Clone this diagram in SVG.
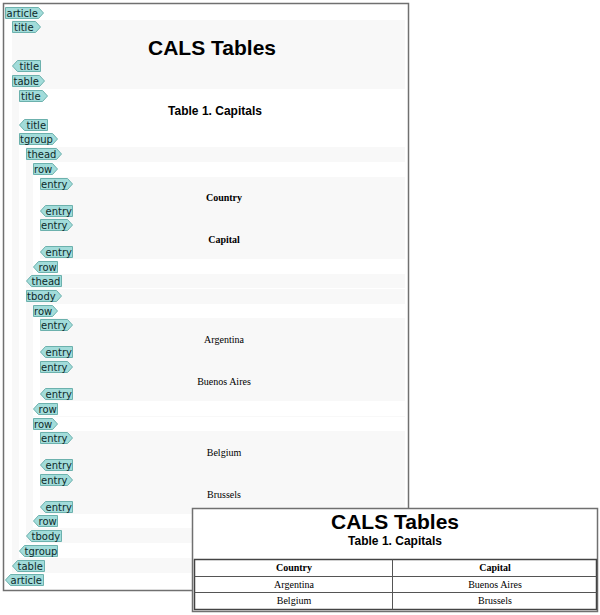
<svg xmlns="http://www.w3.org/2000/svg" width="600" height="615" viewBox="0 0 600 615">
<defs>
<style>
.g{fill:#f8f8f8}
.w{fill:#ffffff}
.tag{fill:#a2dcda;stroke:#6cb1ad;stroke-width:1}
.tt{font-family:"DejaVu Sans",Verdana,sans-serif;font-size:10px;fill:#0d2a2a}
.h1{font-family:"Liberation Sans",Arial,sans-serif;font-weight:bold;font-size:21px;fill:#000;text-anchor:middle}
.h2{font-family:"Liberation Sans",Arial,sans-serif;font-weight:bold;font-size:12px;fill:#000;text-anchor:middle}
.c{font-family:"Liberation Serif","Times New Roman",serif;font-size:10px;fill:#000;text-anchor:middle}
.cb{font-family:"Liberation Serif","Times New Roman",serif;font-size:10px;font-weight:bold;fill:#000;text-anchor:middle}
.frame{fill:none;stroke:#707070;stroke-width:1.5}
</style>
</defs>
<rect x="0" y="0" width="600" height="615" fill="#ffffff"/>
<!-- main editor view -->
<g id="editor">
<rect x="3.5" y="3.5" width="405" height="587" fill="#ffffff"/>
<rect class="g" x="12" y="20" width="393" height="54"/>
<rect class="g" x="12" y="74" width="393" height="499"/>
<rect class="w" x="19" y="89" width="386" height="43"/>
<rect class="w" x="19" y="132" width="386" height="426"/>
<rect class="g" x="26" y="147" width="379" height="141"/>
<rect class="w" x="33" y="162" width="372" height="112"/>
<rect class="g" x="40" y="177" width="365" height="82"/>
<rect class="g" x="26" y="289" width="379" height="254"/>
<rect class="w" x="33" y="304" width="372" height="112"/>
<rect class="g" x="40" y="318" width="365" height="83"/>
<rect class="w" x="33" y="417" width="372" height="111"/>
<rect class="g" x="40" y="431" width="365" height="83"/>

<text class="h1" x="212" y="55">CALS Tables</text>
<text class="h2" x="215" y="115">Table 1. Capitals</text>
<text class="cb" x="224" y="201">Country</text>
<text class="cb" x="224" y="243">Capital</text>
<text class="c" x="224" y="343">Argentina</text>
<text class="c" x="224" y="385">Buenos Aires</text>
<text class="c" x="224" y="456">Belgium</text>
<text class="c" x="224" y="498">Brussels</text>

<g id="tag-article-start"><polygon class="tag" points="5.5,7.5 38.5,7.5 43.5,13 38.5,18.5 5.5,18.5"/><text class="tt" x="6.5" y="16.5">article</text></g>
<g id="tag-title-start"><polygon class="tag" points="12.5,21.5 35.5,21.5 40.5,27 35.5,32.5 12.5,32.5"/><text class="tt" x="14" y="30.5">title</text></g>
<g id="tag-title-end"><polygon class="tag" points="12.5,66 17.5,60.5 40.5,60.5 40.5,71.5 17.5,71.5"/><text class="tt" x="19.5" y="69.5">title</text></g>
<g id="tag-table-start"><polygon class="tag" points="12.5,75.5 39.5,75.5 44.5,81 39.5,86.5 12.5,86.5"/><text class="tt" x="13.5" y="84.5">table</text></g>
<g id="tag-title2-start"><polygon class="tag" points="19.5,90.5 42.5,90.5 47.5,96 42.5,101.5 19.5,101.5"/><text class="tt" x="21" y="99.5">title</text></g>
<g id="tag-title2-end"><polygon class="tag" points="19.5,125 24.5,119.5 47.5,119.5 47.5,130.5 24.5,130.5"/><text class="tt" x="26.5" y="128.5">title</text></g>
<g id="tag-tgroup-start"><polygon class="tag" points="19.5,133.5 52.5,133.5 57.5,139 52.5,144.5 19.5,144.5"/><text class="tt" x="20" y="142.5">tgroup</text></g>
<g id="tag-thead-start"><polygon class="tag" points="26.5,148.5 56.5,148.5 61.5,154 56.5,159.5 26.5,159.5"/><text class="tt" x="27.5" y="157.5">thead</text></g>
<g id="tag-row1-start"><polygon class="tag" points="33.5,163.5 52.5,163.5 57.5,169 52.5,174.5 33.5,174.5"/><text class="tt" x="34" y="172.5">row</text></g>
<g id="tag-entry1-start"><polygon class="tag" points="40.5,178.5 67.5,178.5 72.5,184 67.5,189.5 40.5,189.5"/><text class="tt" x="41" y="187.5">entry</text></g>
<g id="tag-entry1-end"><polygon class="tag" points="40.5,211 45.5,205.5 72.5,205.5 72.5,216.5 45.5,216.5"/><text class="tt" x="45.5" y="214.5">entry</text></g>
<g id="tag-entry2-start"><polygon class="tag" points="40.5,219.5 67.5,219.5 72.5,225 67.5,230.5 40.5,230.5"/><text class="tt" x="41" y="228.5">entry</text></g>
<g id="tag-entry2-end"><polygon class="tag" points="40.5,252 45.5,246.5 72.5,246.5 72.5,257.5 45.5,257.5"/><text class="tt" x="45.5" y="255.5">entry</text></g>
<g id="tag-row1-end"><polygon class="tag" points="33.5,267 38.5,261.5 57.5,261.5 57.5,272.5 38.5,272.5"/><text class="tt" x="38.5" y="270.5">row</text></g>
<g id="tag-thead-end"><polygon class="tag" points="26.5,281 31.5,275.5 61.5,275.5 61.5,286.5 31.5,286.5"/><text class="tt" x="31.5" y="284.5">thead</text></g>
<g id="tag-tbody-start"><polygon class="tag" points="26.5,290.5 56.5,290.5 61.5,296 56.5,301.5 26.5,301.5"/><text class="tt" x="27" y="299.5">tbody</text></g>
<g id="tag-row2-start"><polygon class="tag" points="33.5,305.5 52.5,305.5 57.5,311 52.5,316.5 33.5,316.5"/><text class="tt" x="34" y="314.5">row</text></g>
<g id="tag-entry3-start"><polygon class="tag" points="40.5,319.5 67.5,319.5 72.5,325 67.5,330.5 40.5,330.5"/><text class="tt" x="41" y="328.5">entry</text></g>
<g id="tag-entry3-end"><polygon class="tag" points="40.5,352 45.5,346.5 72.5,346.5 72.5,357.5 45.5,357.5"/><text class="tt" x="45.5" y="355.5">entry</text></g>
<g id="tag-entry4-start"><polygon class="tag" points="40.5,361.5 67.5,361.5 72.5,367 67.5,372.5 40.5,372.5"/><text class="tt" x="41" y="370.5">entry</text></g>
<g id="tag-entry4-end"><polygon class="tag" points="40.5,394 45.5,388.5 72.5,388.5 72.5,399.5 45.5,399.5"/><text class="tt" x="45.5" y="397.5">entry</text></g>
<g id="tag-row2-end"><polygon class="tag" points="33.5,409 38.5,403.5 57.5,403.5 57.5,414.5 38.5,414.5"/><text class="tt" x="38.5" y="412.5">row</text></g>
<g id="tag-row3-start"><polygon class="tag" points="33.5,418.5 52.5,418.5 57.5,424 52.5,429.5 33.5,429.5"/><text class="tt" x="34" y="427.5">row</text></g>
<g id="tag-entry5-start"><polygon class="tag" points="40.5,432.5 67.5,432.5 72.5,438 67.5,443.5 40.5,443.5"/><text class="tt" x="41" y="441.5">entry</text></g>
<g id="tag-entry5-end"><polygon class="tag" points="40.5,465 45.5,459.5 72.5,459.5 72.5,470.5 45.5,470.5"/><text class="tt" x="45.5" y="468.5">entry</text></g>
<g id="tag-entry6-start"><polygon class="tag" points="40.5,474.5 67.5,474.5 72.5,480 67.5,485.5 40.5,485.5"/><text class="tt" x="41" y="483.5">entry</text></g>
<g id="tag-entry6-end"><polygon class="tag" points="40.5,507 45.5,501.5 72.5,501.5 72.5,512.5 45.5,512.5"/><text class="tt" x="45.5" y="510.5">entry</text></g>
<g id="tag-row3-end"><polygon class="tag" points="33.5,521 38.5,515.5 57.5,515.5 57.5,526.5 38.5,526.5"/><text class="tt" x="38.5" y="524.5">row</text></g>
<g id="tag-tbody-end"><polygon class="tag" points="26.5,536 31.5,530.5 61.5,530.5 61.5,541.5 31.5,541.5"/><text class="tt" x="31.5" y="539.5">tbody</text></g>
<g id="tag-tgroup-end"><polygon class="tag" points="19.5,551 24.5,545.5 57.5,545.5 57.5,556.5 24.5,556.5"/><text class="tt" x="24.5" y="554.5">tgroup</text></g>
<g id="tag-table-end"><polygon class="tag" points="12.5,566 17.5,560.5 44.5,560.5 44.5,571.5 17.5,571.5"/><text class="tt" x="17.5" y="569.5">table</text></g>
<g id="tag-article-end"><polygon class="tag" points="5.5,580 10.5,574.5 43.5,574.5 43.5,585.5 10.5,585.5"/><text class="tt" x="10.5" y="583.5">article</text></g>
<rect class="frame" x="3.5" y="3.5" width="405" height="587"/>
</g>
<!-- rendered preview window -->
<g id="preview">
<rect x="192.5" y="508.5" width="405" height="103" fill="#ffffff" stroke="#707070" stroke-width="1.5"/>
<text class="h1" x="395" y="529">CALS Tables</text>
<text class="h2" x="395" y="545">Table 1. Capitals</text>
<rect x="194.5" y="559.5" width="402" height="50" fill="none" stroke="#444" stroke-width="1.5"/>
<line x1="194.5" y1="576.5" x2="596.5" y2="576.5" stroke="#555" stroke-width="1"/>
<line x1="194.5" y1="592.5" x2="596.5" y2="592.5" stroke="#555" stroke-width="1"/>
<line x1="392.5" y1="559.5" x2="392.5" y2="609.5" stroke="#555" stroke-width="1"/>
<text class="cb" x="294" y="571">Country</text>
<text class="cb" x="495" y="571">Capital</text>
<text class="c" x="294" y="588">Argentina</text>
<text class="c" x="495" y="588">Buenos Aires</text>
<text class="c" x="294" y="604">Belgium</text>
<text class="c" x="495" y="604">Brussels</text>
</g>
</svg>
